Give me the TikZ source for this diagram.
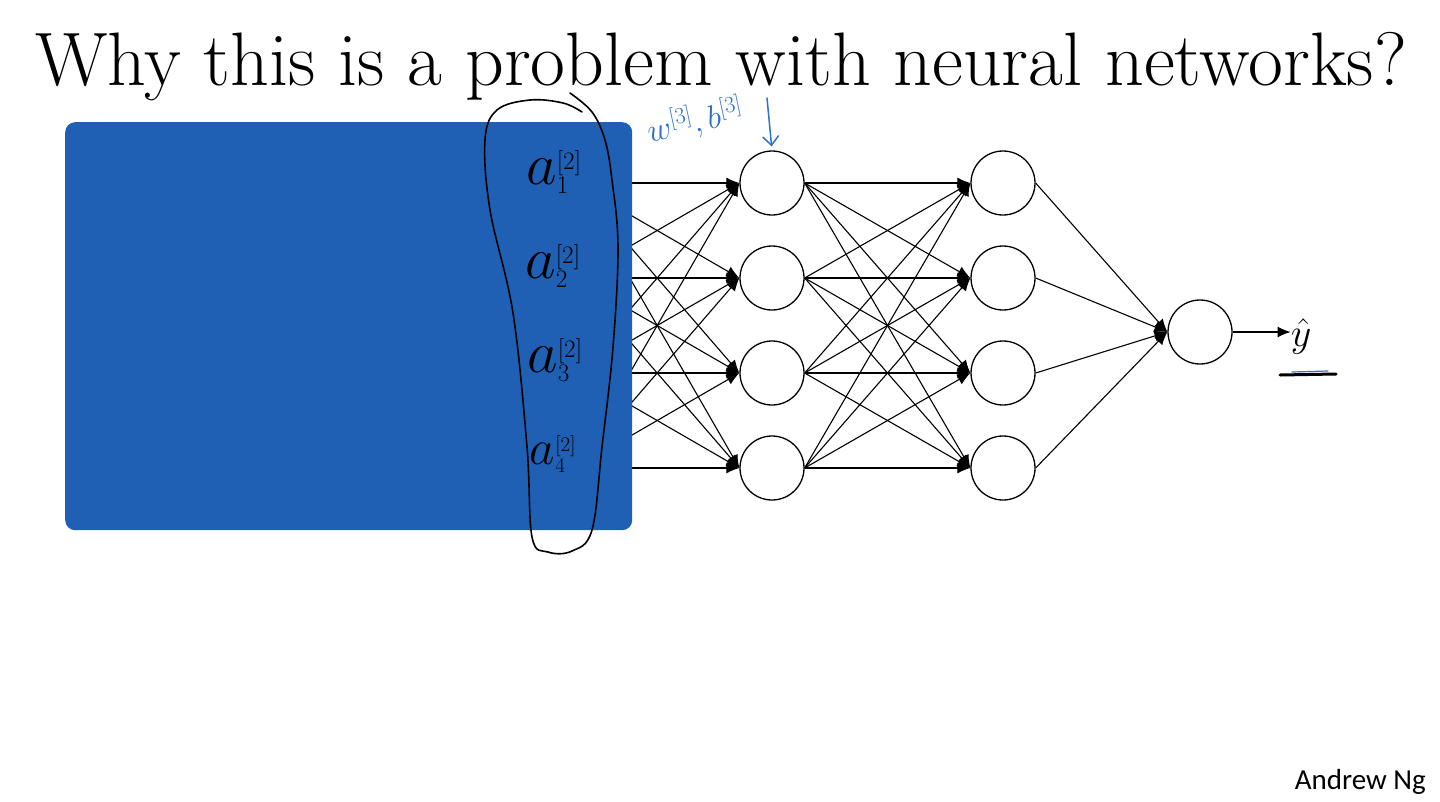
\RequirePackage{fix-cm}
\documentclass[tikz,border=0pt]{standalone}
\usepackage{fontspec}
\usepackage{graphicx}
\newfontfamily\ngfont{Carlito}
\usetikzlibrary{arrows.meta}
\definecolor{slideblue}{RGB}{31,96,181}
\definecolor{inkblue}{RGB}{45,115,205}
\newcommand{\bigA}{\scalebox{1.65}{$a$}}
\begin{document}
\begin{tikzpicture}[x=1pt,y=-1pt,
  neuron/.style={circle,draw,line width=1.3pt,minimum size=64pt,inner sep=0pt,fill=white},
  conn/.style={line width=1.1pt,-{Latex[length=13pt,width=11pt]}},
  hand/.style={font=\fontsize{36}{40}\selectfont,inner sep=0pt},
  ink/.style={inkblue,line width=1.5pt,line cap=round}]
\useasboundingbox (0,0) rectangle (1440,801);
\fill[white] (0,0) rectangle (1440,801);
% title
\node[anchor=base west,inner sep=0pt,font=\fontsize{75.8}{80}\selectfont] (title) at (35,85) {Why this is a problem with neural networks?};
% neurons
\foreach \i/\y in {1/183,2/278,3/373,4/468}{
  \coordinate (in\i) at (575,\y);
  \node[neuron] (h\i) at (772,\y) {};
  \node[neuron] (g\i) at (1003,\y) {};
}
\node[neuron] (out) at (1200,332) {};
% connections
\foreach \i in {1,...,4}{
  \foreach \j in {1,...,4}{
    \draw[conn] (in\i) -- (h\j.west);
    \draw[conn] (h\i.east) -- (g\j.west);
  }
  \draw[conn] (g\i.east) -- (out.west);
}
% blue box
\node[fill=slideblue,rounded corners=10pt,minimum width=567pt,minimum height=408pt,anchor=north west,inner sep=0pt] (box) at (65,122) {};
% output
\node[inner sep=0pt,font=\fontsize{40}{44}\selectfont] (yhat) at (1301,336) {$\hat{y}$};
\draw[conn] (out.east) -- (out.east -| yhat.west);
\coordinate (u1) at (1280,375);
\coordinate (u2) at (1336,374);
\draw[line width=3pt,line cap=round] (u1) -- (u2);
\coordinate (u3) at (1292,372);
\coordinate (u4) at (1328,371);
\draw[ink,line width=1.2pt] (u3) -- (u4);
% handwritten labels
\node[hand] (a1) at (554,172) {$\bigA^{[2]}_1$};
\node[hand] (a2) at (553,266) {$\bigA^{[2]}_2$};
\node[hand] (a3) at (555,360) {$\bigA^{[2]}_3$};
\node[hand,font=\fontsize{30}{34}\selectfont] (a4) at (553,454) {$\bigA^{[2]}_4$};
\draw[line width=1.6pt,line cap=round] plot[smooth,tension=0.6] coordinates {(570,93) (592,112) (605,140) (612,180) (618,247) (613,347) (602,447) (592,530) (572,551) (548,552) (532,537) (527,447) (513,313) (490,210) (485,140) (497,110) (530,100) (563,103) (582,112)};
\node[inkblue,inner sep=0pt,rotate=12,font=\fontsize{33}{36}\selectfont] (wb) at (695,121) {$w^{[3]},b^{[3]}$};
\coordinate (wa) at (767,98);
\draw[ink,-{Straight Barb[length=9pt,width=16pt]},shorten >=4pt] (wa) -- (h1.north);
% footer
\node[anchor=base east,inner sep=0pt,font=\ngfont\fontsize{29}{32}\selectfont] (ng) at (1426,789) {Andrew Ng};
\end{tikzpicture}
\end{document}
